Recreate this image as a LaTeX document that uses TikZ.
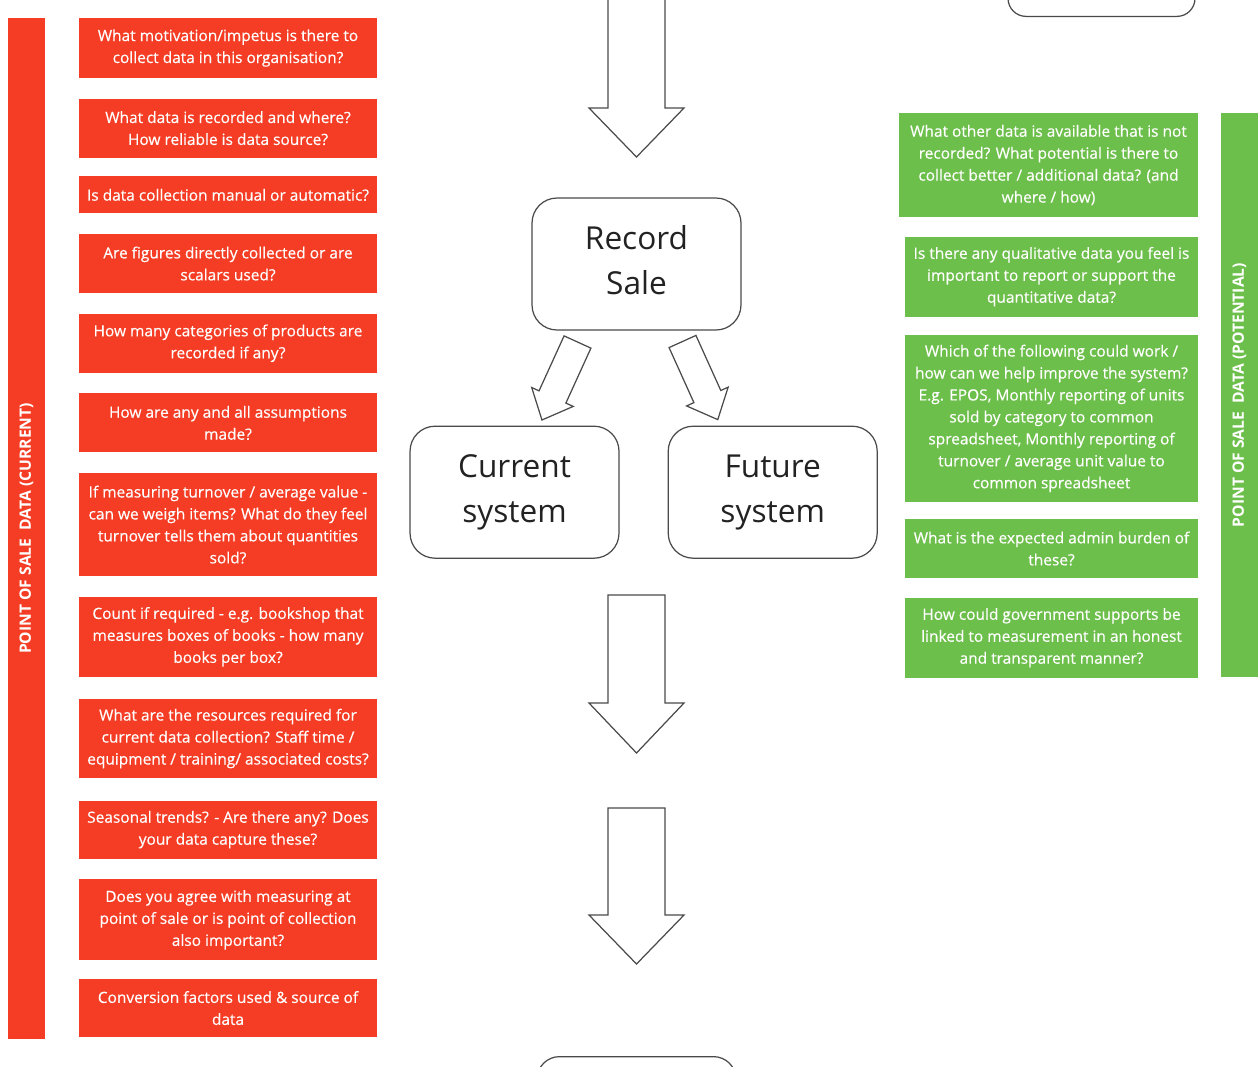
\documentclass[tikz,border=0pt]{standalone}
\usepackage{fontspec}
\setmainfont{Open Sans}
\newfontfamily\qfont{Open Sans}[FakeBold=0.4]
\usetikzlibrary{positioning}

\definecolor{posred}{HTML}{F43D24}
\definecolor{posgreen}{HTML}{6DBF4B}
\definecolor{edgegray}{HTML}{4A4A4A}
\definecolor{textgray}{HTML}{222222}

% block arrow: start, angle, shaft length, shaft half width, head half width, head length
\newcommand{\blockarrow}[6]{%
  \draw[blockarr, shift={#1}, rotate=#2] (0,-#4) -- (#3,-#4) -- (#3,-#5) -- ({#3+#6},0)
    -- (#3,#5) -- (#3,#4) -- (0,#4) -- cycle;}

\begin{document}
\begin{tikzpicture}[x=0.02cm, y=-0.02cm,
  qbox/.style={text=white, align=center, inner sep=1pt, font=\qfont\fontsize{8.8}{12.5}\selectfont},
  redq/.style={qbox, fill=posred, minimum width=5.96cm},
  greenq/.style={qbox, fill=posgreen, minimum width=5.86cm},
  sidebar/.style={text=white, rotate=90, minimum height=0.74cm, inner sep=0pt, font=\bfseries\fontsize{8.9}{10}\selectfont},
  big/.style={draw=edgegray, line width=0.7pt, rounded corners=0.5cm, minimum width=4.18cm, minimum height=2.64cm,
    align=center, text=textgray, text depth=0.15cm, font=\fontsize{18}{25.6}\selectfont},
  blockarr/.style={draw=edgegray, line width=0.7pt, fill=white, line join=miter}]
  \useasboundingbox (0,0) rectangle (1260,1066);
  \clip (0,0) rectangle (1260,1066);

  % left column: current data
  \node[sidebar, fill=posred, minimum width=20.42cm] (curbar) at (26.5,528.5) {POINT OF SALE~ DATA (CURRENT)};
  \node[redq, minimum height=1.2cm] (q1) at (228,48) {What motivation/impetus is there to\\collect data in this organisation?};
  \node[redq, minimum height=1.18cm, below=0.40cm of q1] (q2) {What data is recorded and where?\\How reliable is data source?};
  \node[redq, minimum height=0.74cm, below=0.36cm of q2] (q3) {Is data collection manual or automatic?};
  \node[redq, minimum height=1.18cm, below=0.40cm of q3] (q4) {Are figures directly collected or are\\scalars used?};
  \node[redq, minimum height=1.18cm, below=0.40cm of q4] (q5) {How many categories of products are\\recorded if any?};
  \node[redq, minimum height=1.18cm, below=0.40cm of q5] (q6) {How are any and all assumptions\\made?};
  \node[redq, minimum height=2.06cm, below=0.40cm of q6] (q7) {If measuring turnover / average value -\\can we weigh items? What do they feel\\turnover tells them about quantities\\sold?};
  \node[redq, minimum height=1.6cm, below=0.40cm of q7] (q8) {Count if required - e.g. bookshop that\\measures boxes of books - how many\\books per box?};
  \node[redq, minimum height=1.6cm, below=0.42cm of q8] (q9) {What are the resources required for\\current data collection? Staff time /\\equipment / training/ associated costs?};
  \node[redq, minimum height=1.16cm, below=0.43cm of q9] (q10) {Seasonal trends? - Are there any? Does\\your data capture these?};
  \node[redq, minimum height=1.62cm, below=0.40cm of q10] (q11) {Does you agree with measuring at\\point of sale or is point of collection\\also important?};
  \node[redq, minimum height=1.16cm, below=0.36cm of q11] (q12) {Conversion factors used \& source of\\data};

  % right column: potential data
  \node[sidebar, fill=posgreen, minimum width=11.28cm] (potbar) at (1239.5,395) {POINT OF SALE~ DATA (POTENTIAL)};
  \node[greenq, minimum width=5.98cm, minimum height=2.08cm] (g1) at (1048.5,165) {What other data is available that is not\\recorded? What potential is there to\\collect better / additional data? (and\\where / how)};
  \node[greenq, minimum height=1.6cm, below=0.38cm of g1, xshift=0.06cm] (g2) {Is there any qualitative data you feel is\\important to report or support the\\quantitative data?};
  \node[greenq, minimum height=3.34cm, below=0.35cm of g2] (g3) {Which of the following could work /\\how can we help improve the system?\\E.g. EPOS, Monthly reporting of units\\sold by category to common\\spreadsheet, Monthly reporting of\\turnover / average unit value to\\common spreadsheet};
  \node[greenq, minimum height=1.18cm, below=0.33cm of g3] (g4) {What is the expected admin burden of\\these?};
  \node[greenq, minimum height=1.6cm, below=0.38cm of g4] (g5) {How could government supports be\\linked to measurement in an honest\\and transparent manner?};

  % centre flow
  \node[big, minimum width=3.74cm, minimum height=1.6cm, rounded corners=0.36cm, anchor=south] (prevstep) at (1101.5,17) {};
  \node[big] (record) at (636.5,264) {Record\\Sale};
  \node[big, below=1.9cm of record, xshift=-2.44cm] (current) {Current\\system};
  \node[big, right=0.96cm of current] (future) {Future\\system};
  \node[big, minimum width=3.98cm, rounded corners=0.45cm, anchor=north] (nextstep) at (636.5,1056) {};

  \coordinate (intop) at (636.5,-20);
  \coordinate (tocur) at (577.5,342);
  \coordinate (tofut) at (682.5,341.5);
  \coordinate (outmid) at (636.5,595);
  \coordinate (outlow) at (636.5,808);
  \blockarrow{(intop)}{270}{128}{28.5}{47.5}{49}
  \blockarrow{(tocur)}{245.5}{60.4}{14.75}{22.8}{25.3}
  \blockarrow{(tofut)}{294.3}{60.4}{14.75}{22.8}{25.3}
  \blockarrow{(outmid)}{270}{108}{28.5}{47.5}{50}
  \blockarrow{(outlow)}{270}{107}{28.5}{47.5}{49}
\end{tikzpicture}
\end{document}
